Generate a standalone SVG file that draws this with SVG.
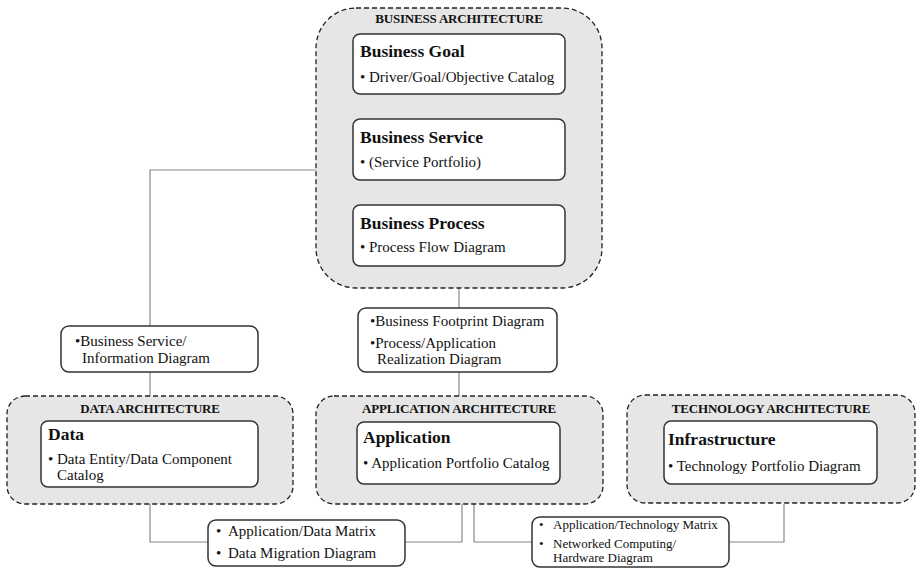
<svg xmlns="http://www.w3.org/2000/svg" width="916" height="568" viewBox="0 0 916 568">
<style>
.cont{fill:#e6e6e6;stroke:#222;stroke-width:1.3;stroke-dasharray:5 3}
.box{fill:#fff;stroke:#333;stroke-width:1.5}
.conn{fill:none;stroke:#888;stroke-width:1.2}
text{font-family:"Liberation Serif","Times New Roman",serif;fill:#111}
.ct{font-size:13px;font-weight:bold;text-anchor:middle;letter-spacing:-0.2px}
.bt{font-size:17.5px;font-weight:bold}
.tx{font-size:15px}
.sm{font-size:13px}
</style>
<rect width="916" height="568" fill="#fff"/>
<g id="connectors">
<path class="conn" d="M316 170 H150 V326"/>
<path class="conn" d="M150 372 V396"/>
<path class="conn" d="M459 288 V308"/>
<path class="conn" d="M459 372 V396"/>
<path class="conn" d="M150 504 V542 H208"/>
<path class="conn" d="M405 542 H462 V504"/>
<path class="conn" d="M474 504 V542 H532"/>
<path class="conn" d="M729 542 H784 V504"/>
</g>
<g id="business-architecture">
<rect class="cont" x="316" y="8" width="286" height="280" rx="40"/>
<text class="ct" x="459" y="23">BUSINESS ARCHITECTURE</text>
</g>
<g id="business-goal">
<rect class="box" x="353" y="34" width="212" height="60" rx="7"/>
<text class="bt" x="360" y="57">Business Goal</text>
<text class="tx" x="360" y="82">• Driver/Goal/Objective Catalog</text>
</g>
<g id="business-service">
<rect class="box" x="353" y="119" width="212" height="61" rx="7"/>
<text class="bt" x="360" y="143">Business Service</text>
<text class="tx" x="360" y="167">• (Service Portfolio)</text>
</g>
<g id="business-process">
<rect class="box" x="353" y="205" width="212" height="61" rx="7"/>
<text class="bt" x="360" y="229">Business Process</text>
<text class="tx" x="360" y="252">• Process Flow Diagram</text>
</g>
<g id="business-service-information">
<rect class="box" x="61" y="326" width="197" height="46" rx="8"/>
<text class="tx" x="75" y="346">•Business Service/</text>
<text class="tx" x="82" y="363">Information Diagram</text>
</g>
<g id="business-footprint">
<rect class="box" x="358" y="308" width="199" height="64" rx="8"/>
<text class="tx" x="370" y="326">•Business Footprint Diagram</text>
<text class="tx" x="370" y="348">•Process/Application</text>
<text class="tx" x="377" y="364">Realization Diagram</text>
</g>
<g id="data-architecture">
<rect class="cont" x="7" y="396" width="286" height="108" rx="18"/>
<text class="ct" x="150" y="413">DATA ARCHITECTURE</text>
<rect class="box" x="41" y="421" width="217" height="66" rx="7"/>
<text class="bt" x="48" y="440">Data</text>
<text class="tx" x="48" y="464">• Data Entity/Data Component</text>
<text class="tx" x="57" y="480">Catalog</text>
</g>
<g id="application-architecture">
<rect class="cont" x="316" y="396" width="287" height="108" rx="18"/>
<text class="ct" x="459" y="413">APPLICATION ARCHITECTURE</text>
<rect class="box" x="357" y="422" width="203" height="62" rx="7"/>
<text class="bt" x="363" y="443">Application</text>
<text class="tx" x="363" y="468">• Application Portfolio Catalog</text>
</g>
<g id="technology-architecture">
<rect class="cont" x="627" y="395" width="288" height="108" rx="18"/>
<text class="ct" x="771" y="413">TECHNOLOGY ARCHITECTURE</text>
<rect class="box" x="664" y="421" width="213" height="63" rx="7"/>
<text class="bt" x="668" y="445">Infrastructure</text>
<text class="tx" x="668" y="471">• Technology Portfolio Diagram</text>
</g>
<g id="application-data-matrix">
<rect class="box" x="208" y="520" width="197" height="46" rx="8"/>
<text class="tx" x="216" y="536">•</text>
<text class="tx" x="228" y="536">Application/Data Matrix</text>
<text class="tx" x="216" y="558">•</text>
<text class="tx" x="228" y="558">Data Migration Diagram</text>
</g>
<g id="application-technology-matrix">
<rect class="box" x="532" y="517" width="197" height="50" rx="8"/>
<text class="sm" x="539" y="529">•</text>
<text class="sm" x="553" y="529">Application/Technology Matrix</text>
<text class="sm" x="539" y="548">•</text>
<text class="sm" x="553" y="548">Networked Computing/</text>
<text class="sm" x="553" y="562">Hardware Diagram</text>
</g>
</svg>
